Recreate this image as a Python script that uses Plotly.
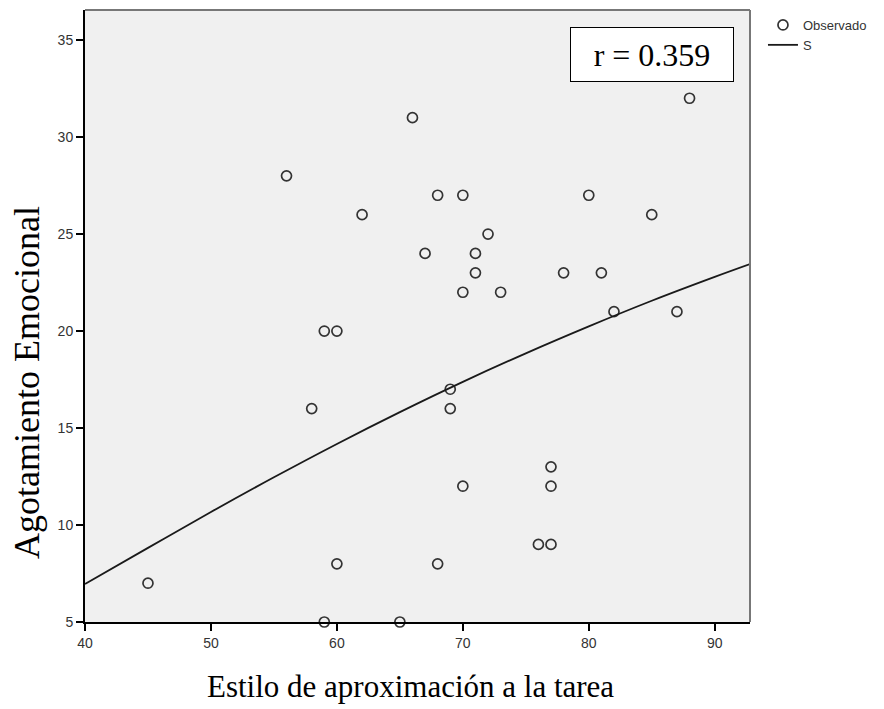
import plotly.graph_objects as go

# Observed data (Estilo de aproximación a la tarea vs Agotamiento Emocional)
obs_x = [45, 56, 58, 59, 60, 59, 60, 62, 65, 66, 67, 68, 68, 69, 69, 70, 70, 70,
         71, 71, 72, 73, 76, 77, 77, 77, 78, 80, 81, 82, 85, 87, 88]
obs_y = [7, 28, 16, 20, 20, 5, 8, 26, 5, 31, 24, 27, 8, 17, 16, 27, 22, 12,
         24, 23, 25, 22, 9, 9, 13, 12, 23, 27, 23, 21, 26, 21, 32]

# S-curve fit, values
curve_x = [40, 45, 50, 55, 60, 65, 70, 75, 80, 85, 90, 92.8]
curve_y = [6.96, 8.82, 10.67, 12.46, 14.18, 15.82, 17.38, 18.85, 20.24, 21.56, 22.79, 23.45]

x_ticks = [40, 50, 60, 70, 80, 90]
y_ticks = [5, 10, 15, 20, 25, 30, 35]

r_label = "r = 0.359"
x_title = "Estilo de aproximación a la tarea"
y_title = "Agotamiento Emocional"

# page has an 8px body margin; plot area in page px: x 85..750, y 10..622
OFF = 8
W, H = 884 - OFF, 709 - OFF
PL, PR, PT, PB = 85, 750, 10, 622


def px_x(p):
    return (p - PL) / (PR - PL)


def px_y(p):
    return (PB - p) / (PB - PT)


fig = go.Figure()
fig.add_trace(go.Scatter(
    x=obs_x, y=obs_y, mode="markers", name="Observado",
    marker=dict(symbol="circle-open", size=10, color="#333333",
                line=dict(width=1.7, color="#333333")),
    cliponaxis=False,
))
fig.add_trace(go.Scatter(
    x=curve_x, y=curve_y, mode="lines", name="S",
    line=dict(color="#1a1a1a", width=1.8, shape="spline"),
))

fig.update_layout(
    width=W, height=H,
    margin=dict(l=PL - OFF, r=W - (PR - OFF), t=PT - OFF, b=H - (PB - OFF), pad=0),
    paper_bgcolor="white",
    plot_bgcolor="#F0F0F0",
    font=dict(family="Liberation Sans, Arial", size=14, color="#333333"),
    showlegend=True,
    legend=dict(x=1.0195, y=1.0, xanchor="left", yanchor="top",
                bgcolor="rgba(0,0,0,0)", font=dict(size=13, color="#333333"),
                itemwidth=30, tracegroupgap=0),
    xaxis=dict(range=[40, 92.8], tickvals=x_ticks, showgrid=False, zeroline=False,
               showline=True, linecolor="black", linewidth=2,
               ticks="outside", ticklen=7, tickwidth=2, tickcolor="black"),
    yaxis=dict(range=[5, 36.55], tickvals=y_ticks, showgrid=False, zeroline=False,
               showline=True, linecolor="black", linewidth=2,
               ticks="outside", ticklen=7, tickwidth=2, tickcolor="black"),
    shapes=[
        dict(type="line", xref="paper", yref="paper", x0=0, x1=1, y0=1, y1=1,
             line=dict(color="#777777", width=2)),
        dict(type="line", xref="paper", yref="paper", x0=1, x1=1, y0=0, y1=1,
             line=dict(color="#777777", width=2)),
    ],
    annotations=[
        dict(text=r_label, xref="paper", yref="paper",
             x=px_x(652), y=px_y(54.5), xanchor="center", yanchor="middle",
             showarrow=False, font=dict(family="Liberation Serif, Times New Roman", size=32, color="black"),
             bgcolor="white", bordercolor="black", borderwidth=1,
             width=160, height=51),
        dict(text=x_title, xref="paper", yref="paper",
             x=px_x(410), y=px_y(686), xanchor="center", yanchor="middle",
             showarrow=False, font=dict(family="Liberation Serif, Times New Roman", size=31, color="black")),
        dict(text=y_title, xref="paper", yref="paper",
             x=px_x(27), y=px_y(383), xanchor="center", yanchor="middle",
             textangle=-90, showarrow=False,
             font=dict(family="Liberation Serif, Times New Roman", size=36, color="black")),
    ],
)

fig.write_html("out.html")
